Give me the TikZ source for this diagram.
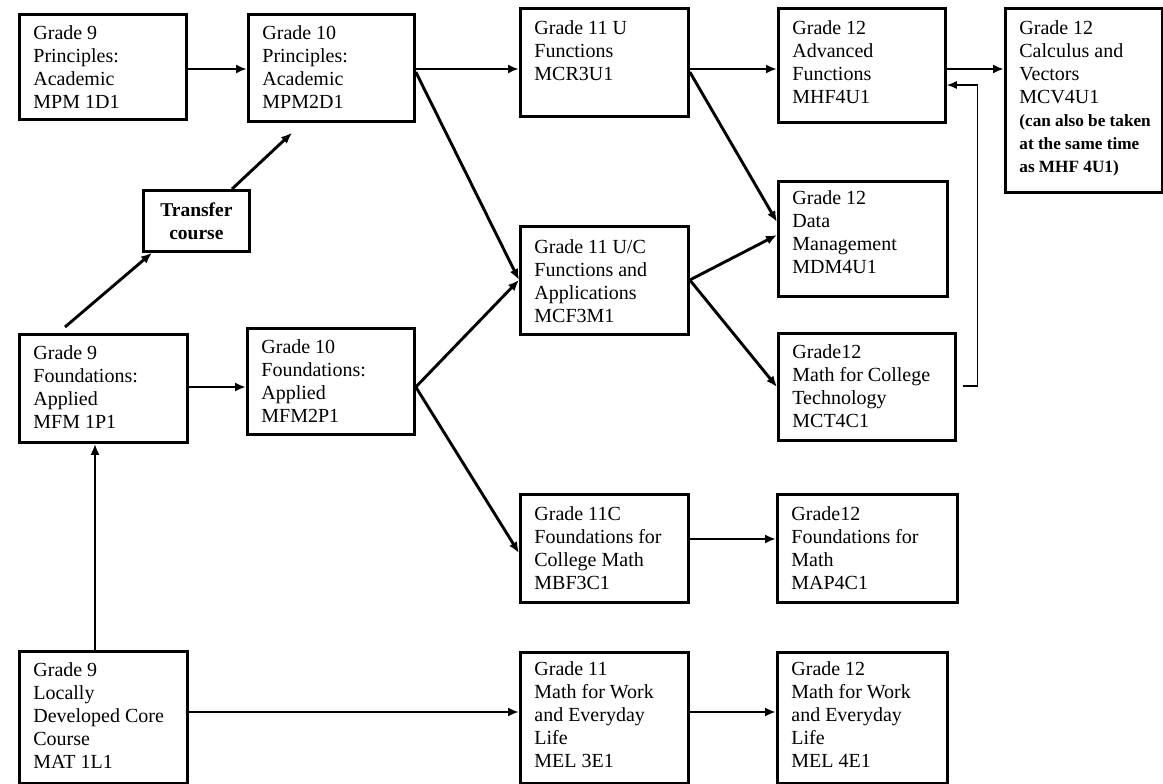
\documentclass[tikz,border=0pt]{standalone}
\usepackage{fontspec}
\setmainfont{Liberation Serif}
\usetikzlibrary{arrows.meta,calc}
\tikzset{
  crs/.style={draw, line width=2.8pt, inner sep=0pt, anchor=north west,
    font=\fontsize{20}{23}\selectfont},
  arr/.style={line width=2.5pt, -{Latex[length=11pt,width=9pt]}},
  darr/.style={line width=2.9pt, -{Latex[length=11pt,width=9pt]}},
  fback/.style={line width=1.3pt, -{Latex[length=10pt,width=8pt]}},
}
% name, x, y, w, h, top offset, text
\newcommand\crsbox[7]{\node[crs] (#1) at (#2,#3) {\parbox[c][#5pt][t]{#4pt}{\parindent=0pt\leftskip=14pt\rightskip=0pt plus 1fil\relax\vspace*{#6pt}#7\par}};}
\begin{document}
\begin{tikzpicture}[x=1pt,y=-1pt]
\useasboundingbox (0,0) rectangle (1163,784);
\crsbox{g9p}{18}{13}{167}{105}{11.2}{Grade 9\\Principles:\\Academic\\MPM 1D1}
\crsbox{g10p}{247}{13}{166}{107}{11.2}{Grade 10\\Principles:\\Academic\\MPM2D1}
\crsbox{g11u}{519}{7}{168}{108}{12.2}{Grade 11 U\\Functions\\MCR3U1}
\crsbox{adv}{777}{7}{167}{114}{12.2}{Grade 12\\Advanced\\Functions\\MHF4U1}
\crsbox{calc}{1004}{7}{157}{184}{12.2}{Grade 12\\Calculus and\\Vectors\\MCV4U1\\{\bfseries\fontsize{17.2}{22}\selectfont (can also be taken\\at the same time\\as MHF 4U1)}}
\crsbox{data}{777}{180}{169}{115}{9.2}{Grade 12\\Data\\Management\\MDM4U1}
\crsbox{mct}{777}{332}{177}{107}{11.2}{Grade12\\Math for College\\Technology\\MCT4C1}
\crsbox{g11uc}{519}{225}{168}{108}{13.2}{Grade 11 U/C\\Functions and\\Applications\\MCF3M1}
\crsbox{g9f}{18}{333}{168}{108}{11.2}{Grade 9\\Foundations:\\Applied\\MFM 1P1}
\crsbox{g10f}{246}{327}{167}{106}{11.2}{Grade 10\\Foundations:\\Applied\\MFM2P1}
\crsbox{g11c}{519}{493}{168}{108}{12.2}{Grade 11C\\Foundations for\\College Math\\MBF3C1}
\crsbox{map}{776}{493}{180}{108}{12.2}{Grade12\\Foundations for\\Math\\MAP4C1}
\crsbox{g9l}{18}{650}{168}{132}{11.2}{Grade 9\\Locally\\Developed Core\\Course\\MAT 1L1}
\crsbox{g11w}{519}{651}{168}{131}{9.2}{Grade 11\\Math for Work\\and Everyday\\Life\\MEL 3E1}
\crsbox{g12w}{776}{651}{170}{131}{9.2}{Grade 12\\Math for Work\\and Everyday\\Life\\MEL 4E1}
\node[draw, line width=2.8pt, inner sep=0pt, anchor=north west, minimum width=106pt,
  minimum height=61pt, align=center, font=\bfseries\fontsize{19.5}{23}\selectfont]
  (tr) at (142,189) {Transfer\\course};

% horizontal arrows
\draw[arr] (g9p.east |- 0,69) -- (g10p.west |- 0,69);
\draw[arr] (g10p.east |- 0,69) -- (g11u.west |- 0,69);
\draw[arr] (g11u.east |- 0,69) -- (adv.west |- 0,69);
\draw[arr] (adv.east |- 0,69) -- (calc.west |- 0,69);
\draw[arr] (g9f.east |- 0,387) -- (g10f.west |- 0,387);
\draw[arr] (g11c.east |- 0,539) -- (map.west |- 0,539);
\draw[arr] (g9l.east |- 0,712) -- (g11w.west |- 0,712);
\draw[arr] (g11w.east |- 0,712) -- (g12w.west |- 0,712);
% vertical arrow
\draw[arr] ($(g9l.north west)+(77,0)$) -- (g9f.south -| 95,0);
% transfer course
\draw[darr] ($(g9f.north west)+(47,-6)$) -- ($(tr.south west)+(10,0)$);
\draw[darr] ($(tr.north west)+(90,0)$) -- ($(g10p.south west)+(45,10)$);
% diagonals
\draw[darr] (g10p.east |- 0,72) -- (g11uc.west |- 0,280);
\draw[darr] (g10f.east |- 0,387) -- (g11uc.west |- 0,280);
\draw[darr] (g10f.east |- 0,387) -- (g11c.west |- 0,553);
\draw[darr] (g11u.east |- 0,72) -- (data.west |- 0,222);
\draw[darr] (g11uc.east |- 0,280) -- (data.west |- 0,235);
\draw[darr] (g11uc.east |- 0,280) -- (mct.west |- 0,387);
% feedback
\draw[fback] ($(mct.east |- 0,386)+(6,0)$) -- ++(15,0) |- (adv.east |- 0,85);
\end{tikzpicture}
\end{document}
